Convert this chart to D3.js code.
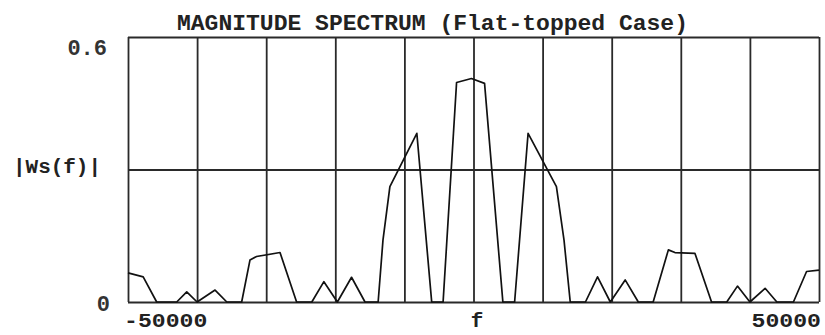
<!DOCTYPE html>
<html>
<head>
<meta charset="utf-8">
<script src="https://cdn.jsdelivr.net/npm/d3@7"></script>
<style>
  html, body { margin: 0; padding: 0; background: #fff; }
  svg { display: block; }
</style>
</head>
<body>
<div id="chart"></div>
<script>
// ---- data ----
const freq = [-50000,-47800,-45850,-42950,-41500,-40000,-37400,-35700,-33550,-32350,-31400,-28000,
  -25600,-23400,-21650,-19700,-17650,-15700,-13800,-13100,-12100,-8200,-6050,-4400,-2450,-300,1600,
  4250,5950,7900,12000,13100,14000,16200,17950,19800,21950,23850,26000,28200,29150,32050,34450,
  36650,38200,40000,42200,43900,46300,48200,50000];
const magnitude = [0.066,0.057,0,0,0.023,0,0.027,0,0,0.095,0.103,0.112,0,0,0.046,0,0.056,0,0,
  0.14,0.261,0.382,0,0,0.497,0.506,0.495,0,0,0.382,0.261,0.14,0,0,0.057,0,0.05,0,0,0.118,0.112,
  0.11,0,0,0.036,0,0.031,0,0,0.069,0.072];
const xGridValues = [-50000,-40000,-30000,-20000,-10000,0,10000,20000,30000,40000,50000];
const yGridValues = [0, 0.3, 0.6];
const yTickLabels = [{v: 0, t: "0"}, {v: 0.6, t: "0.6"}];
const xTickLabels = [{v: -50000, t: "-50000"}, {v: 50000, t: "50000"}];
const titleText = "MAGNITUDE SPECTRUM (Flat-topped Case)";
const xAxisTitle = "f";
const yAxisTitle = "|Ws(f)|";

// ---- layout ----
const W = 825, H = 335;
const margin = {top: 37, right: 6, bottom: 33, left: 128};
const svg = d3.select("#chart").append("svg").attr("width", W).attr("height", H);

const x = d3.scaleLinear().domain([-50000, 50000]).range([margin.left, W - margin.right]);
const y = d3.scaleLinear().domain([0, 0.6]).range([H - margin.bottom, margin.top]);

const font = "'Liberation Mono', 'Courier New', monospace";
const gridColor = "#2a2a2a";

// gridlines via axes
const gx = svg.append("g").attr("transform", `translate(0,${margin.top})`)
  .call(d3.axisBottom(x).tickValues(xGridValues).tickSize(H - margin.bottom - margin.top).tickFormat(""));
gx.select(".domain").remove();
gx.selectAll(".tick line").attr("stroke", gridColor).attr("stroke-width", 1.8);

const gy = svg.append("g").attr("transform", `translate(${margin.left},0)`)
  .call(d3.axisRight(y).tickValues(yGridValues).tickSize(W - margin.right - margin.left).tickFormat(""));
gy.select(".domain").remove();
gy.selectAll(".tick line").attr("stroke", gridColor).attr("stroke-width", 1.8);

// data line
const line = d3.line().x((d, i) => x(freq[i])).y(d => y(d));
svg.append("path")
  .datum(magnitude)
  .attr("fill", "none")
  .attr("stroke", "#111")
  .attr("stroke-width", 1.7)
  .attr("stroke-linejoin", "round")
  .attr("d", line);

// title
svg.append("text")
  .attr("x", (177 + 688) / 2).attr("y", 30)
  .attr("text-anchor", "middle")
  .attr("font-family", font).attr("font-size", 22).attr("font-weight", "bold")
  .attr("fill", "#222")
  .attr("textLength", 511).attr("lengthAdjust", "spacingAndGlyphs")
  .text(titleText);

// y tick labels
svg.selectAll(".ylab").data(yTickLabels).enter().append("text")
  .attr("class", "ylab")
  .attr("x", d => d.v === 0 ? 110 : 107)
  .attr("y", d => y(d.v) + (d.v === 0 ? 9 : 18))
  .attr("text-anchor", "end")
  .attr("font-family", font).attr("font-size", 22).attr("font-weight", "bold")
  .attr("fill", "#333")
  .text(d => d.t);

// y axis title
svg.append("text")
  .attr("x", 13).attr("y", 173)
  .attr("font-family", font).attr("font-size", 20).attr("font-weight", "bold")
  .attr("fill", "#222")
  .attr("textLength", 88).attr("lengthAdjust", "spacingAndGlyphs")
  .text(yAxisTitle);

// x tick labels
svg.selectAll(".xlab").data(xTickLabels).enter().append("text")
  .attr("class", "xlab")
  .attr("x", d => d.v < 0 ? x(d.v) - 4 : x(d.v) + 2)
  .attr("y", 327)
  .attr("text-anchor", d => d.v < 0 ? "start" : "end")
  .attr("font-family", font).attr("font-size", 21).attr("font-weight", "bold")
  .attr("fill", "#222")
  .attr("textLength", d => d.t.length * 13.9).attr("lengthAdjust", "spacingAndGlyphs")
  .text(d => d.t);

// x axis title
svg.append("text")
  .attr("x", 477).attr("y", 327)
  .attr("text-anchor", "middle")
  .attr("font-family", font).attr("font-size", 21).attr("font-weight", "bold")
  .attr("fill", "#222")
  .text(xAxisTitle);
</script>
</body>
</html>
